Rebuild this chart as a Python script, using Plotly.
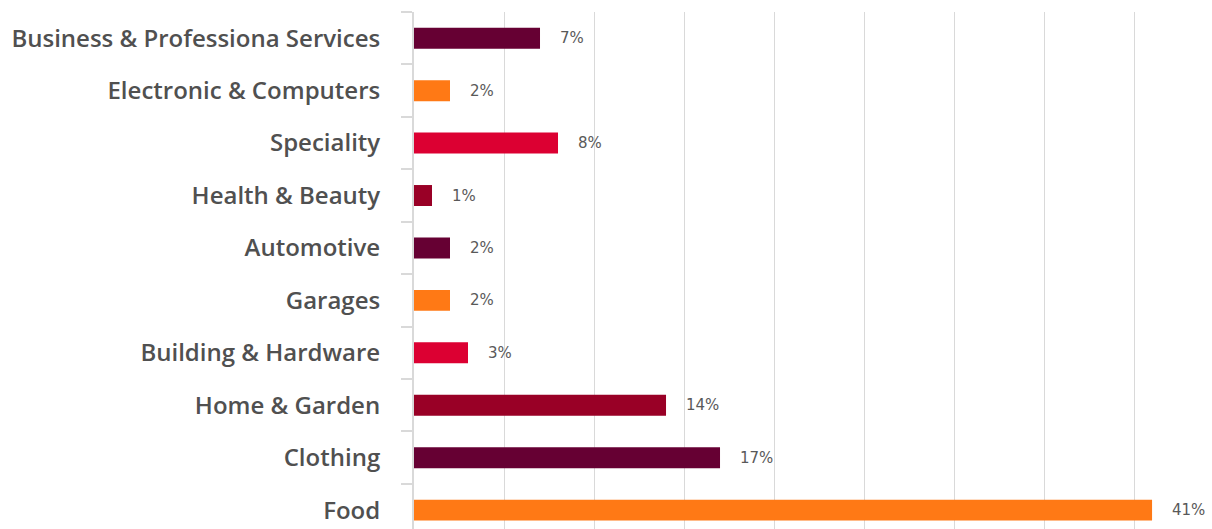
import plotly.graph_objects as go

categories = ["Food", "Clothing", "Home & Garden", "Building & Hardware", "Garages",
              "Automotive", "Health & Beauty", "Speciality", "Electronic & Computers",
              "Business & Professiona Services"]
values = [41, 17, 14, 3, 2, 2, 1, 8, 2, 7]
labels = ["41%", "17%", "14%", "3%", "2%", "2%", "1%", "8%", "2%", "7%"]
palette = ["#FF7915", "#660033", "#990026", "#DC0032"]
colors = [palette[i % 4] for i in range(len(categories))]

fig = go.Figure()
fig.add_trace(go.Bar(
    x=values, y=categories, orientation="h",
    marker=dict(color=colors, line=dict(width=0)),
    width=0.4, hoverinfo="skip",
))
for c, v, t in zip(categories, values, labels):
    fig.add_annotation(x=v, y=c, text=t, showarrow=False, xanchor="left",
                       xshift=18, font=dict(family="DejaVu Sans", size=15, color="#595959"))

fig.update_layout(
    width=1212, height=529,
    margin=dict(l=414, r=0, t=12, b=0),
    paper_bgcolor="white", plot_bgcolor="white",
    showlegend=False,
    xaxis=dict(range=[0, 44.33], dtick=5, showgrid=True, gridcolor="#D9D9D9", gridwidth=1,
               showticklabels=False, zeroline=False, showline=False, ticks=""),
    yaxis=dict(type="category", categoryorder="array", categoryarray=categories,
               range=[-0.36, 9.5], showline=True, linecolor="#D9D9D9", linewidth=2,
               ticks="outside", tickson="boundaries", ticklen=11, tickwidth=2,
               tickcolor="#D9D9D9", showgrid=False, ticklabelstandoff=27,
               tickfont=dict(family="Open Sans", size=24, weight=600, color="#505050")),
)
fig.write_html("out.html")
